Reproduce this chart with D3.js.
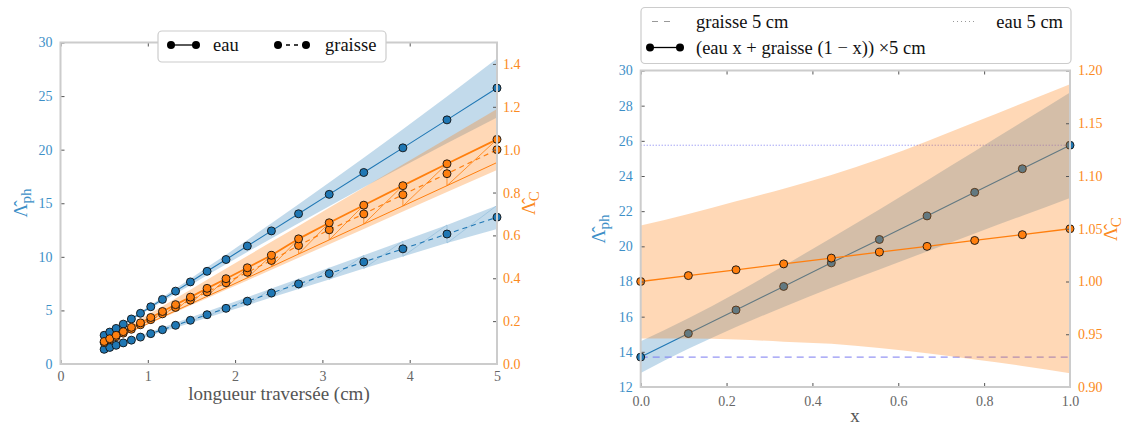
<!DOCTYPE html>
<html><head><meta charset="utf-8">
<script src="https://cdn.jsdelivr.net/npm/d3@7"></script>
<style>
body{margin:0;background:#fff;}
svg{display:block;font-family:"Liberation Serif","DejaVu Serif",serif;}
svg text{font-family:"Liberation Serif","DejaVu Serif",serif;}
</style></head>
<body><svg id="c" width="1124" height="428"></svg>
<script>
// ---------- data: left panel ----------
const lengths = [0.5,0.564,0.637,0.719,0.812,0.916,1.034,1.168,1.318,1.488,1.679,1.896,2.140,2.416,2.727,3.078,3.474,3.922,4.427,5.0];
const eauPh   = [2.68,2.98,3.32,3.72,4.2,4.73,5.34,6.03,6.8,7.66,8.65,9.75,11.01,12.42,14.02,15.83,17.87,20.17,22.78,25.75];
const eauPhLo = [2.63,2.92,3.25,3.63,4.09,4.6,5.18,5.84,6.56,7.36,8.28,9.3,10.45,11.72,13.14,14.73,16.49,18.44,20.6,23.0];
const eauPhHi = [2.73,3.04,3.39,3.81,4.31,4.86,5.5,6.23,7.04,7.96,9.02,10.2,11.58,13.13,14.9,16.93,19.25,21.9,24.96,28.5];
const grPh    = [1.37,1.545,1.745,1.97,2.225,2.51,2.833,3.2,3.611,4.077,4.6,5.195,5.864,6.62,7.472,8.434,9.519,10.746,12.13,13.7];
const grPhLo  = [1.27,1.435,1.625,1.84,2.075,2.35,2.65,3.0,3.38,3.82,4.31,4.87,5.49,6.2,6.99,7.88,8.9,10.03,11.28,12.6];
const grPhHi  = [1.47,1.655,1.865,2.1,2.375,2.67,3.01,3.4,3.84,4.34,4.89,5.53,6.23,7.04,7.95,8.98,10.14,11.47,12.98,14.8];
const eauC    = [0.105,0.118,0.134,0.151,0.171,0.192,0.217,0.245,0.277,0.312,0.353,0.398,0.449,0.507,0.584,0.659,0.741,0.832,0.934,1.048];
const grC     = [0.1,0.113,0.127,0.144,0.162,0.183,0.207,0.234,0.264,0.298,0.336,0.379,0.428,0.483,0.553,0.626,0.70,0.79,0.888,1.0];
const cBandLo = [0.095,0.107,0.12,0.134,0.151,0.17,0.191,0.215,0.242,0.273,0.307,0.346,0.39,0.44,0.496,0.559,0.63,0.711,0.802,0.905];
const cBandHi = [0.11,0.125,0.143,0.163,0.185,0.21,0.238,0.27,0.306,0.347,0.393,0.445,0.504,0.57,0.644,0.729,0.824,0.931,1.052,1.19];
const cThin   = [0.094,0.106,0.12,0.135,0.153,0.172,0.194,0.22,0.248,0.28,0.316,0.356,0.402,0.454,0.513,0.579,0.653,0.737,0.832,0.94];
const leftXTicks = [0,1,2,3,4,5];
const leftYTicks = [0,5,10,15,20,25,30];
const leftCTicks = [0.0,0.2,0.4,0.6,0.8,1.0,1.2,1.4];
const leftLegend = ["eau","graisse"];

// ---------- data: right panel ----------
const fracs   = [0,0.111,0.222,0.333,0.444,0.556,0.667,0.778,0.889,1.0];
const mixPh   = [13.7,15.04,16.38,17.72,19.06,20.39,21.73,23.07,24.41,25.75];
const mixPhLo = [12.8,14.17,15.41,16.55,17.64,18.68,19.71,20.73,21.74,22.75];
const mixPhHi = [14.6,15.91,17.35,18.89,20.48,22.1,23.75,25.41,27.08,28.75];
const mixC    = [1.0,1.0056,1.0111,1.0167,1.0222,1.0278,1.0333,1.0389,1.0444,1.05];
const mixCLo  = [0.946,0.946,0.945,0.943,0.941,0.937,0.932,0.926,0.920,0.913];
const mixCHi  = [1.053,1.064,1.076,1.088,1.101,1.116,1.133,1.151,1.169,1.187];
const graisse5 = 13.7, eau5 = 25.75;
const rightXTicks = [0,0.2,0.4,0.6,0.8,1.0];
const rightYTicks = [12,14,16,18,20,22,24,26,28,30];
const rightCTicks = [0.90,0.95,1.00,1.05,1.10,1.15,1.20];
const rightLegend = ["graisse 5 cm","eau 5 cm","(eau x + graisse (1 − x)) ×5 cm"];

// ---------- styles ----------
const BLUE="#1f77b4", ORANGE="#ff7f0e", BLUETXT="#3d8fc7", ORTXT="#fb8a22", GRAYTXT="#666", SPINE="#cccccc", REF="#7b7bf0";
const FONT="Liberation Serif, DejaVu Serif, serif";
const svg = d3.select("#c");

function spines(g, x0,x1,y0,y1){
  g.append("rect").attr("x",x0).attr("y",y1).attr("width",x1-x0).attr("height",y0-y1)
   .attr("fill","none").attr("stroke",SPINE).attr("stroke-width",2);
}
function styleAxis(sel, color){
  sel.attr("font-family",FONT).attr("font-size",14);
  sel.select(".domain").remove();
  sel.selectAll(".tick line").attr("stroke","#555").attr("stroke-width",1);
  sel.selectAll(".tick text").attr("fill",color);
}
function drawAxes(x,y,yc,xt,yt,ct,fmtX,fmtY,fmtC,padB,padL,padR){
  const [x0,x1]=x.range(), [y0,y1]=y.range();
  const gB=svg.append("g").attr("transform",`translate(0,${y0})`)
    .call(d3.axisBottom(x).tickValues(xt).tickFormat(fmtX).tickSize(-4).tickPadding(padB));
  styleAxis(gB,GRAYTXT);
  const gT=svg.append("g").attr("transform",`translate(0,${y1})`)
    .call(d3.axisTop(x).tickValues(xt).tickFormat("").tickSize(-4));
  styleAxis(gT,GRAYTXT);
  const gL=svg.append("g").attr("transform",`translate(${x0},0)`)
    .call(d3.axisLeft(y).tickValues(yt).tickFormat(fmtY).tickSize(-4).tickPadding(padL));
  styleAxis(gL,BLUETXT);
  const gR=svg.append("g").attr("transform",`translate(${x1},0)`)
    .call(d3.axisRight(yc).tickValues(ct).tickFormat(fmtC).tickSize(-4).tickPadding(padR));
  styleAxis(gR,ORTXT);
  spines(svg,x0,x1,y0,y1);
}
function lamLabel(x,y,sub,color,subSize){
  const t=svg.append("text").attr("transform",`translate(${x},${y}) rotate(-90)`)
    .attr("text-anchor","middle").attr("fill",color).style("font-size","19px");
  t.append("tspan").text("Λ\u0302");
  t.append("tspan").attr("dy","4").style("font-size",subSize).text(sub);
}

// ================= LEFT PANEL =================
const xL=d3.scaleLinear([0,5],[60.5,497]);
const yL=d3.scaleLinear([0,30],[364,42.5]);
const yLC=d3.scaleLinear([0,1.5],[364,42.5]);
const idxL=d3.range(lengths.length);

const areaL=(lo,hi,ys)=>d3.area().x(i=>xL(lengths[i])).y0(i=>ys(lo[i])).y1(i=>ys(hi[i]))(idxL);
const lineL=(v,ys)=>d3.line().x(i=>xL(lengths[i])).y(i=>ys(v[i]))(idxL);

svg.append("path").attr("d",areaL(eauPhLo,eauPhHi,yL)).attr("fill",BLUE).attr("fill-opacity",0.27);
svg.append("path").attr("d",areaL(grPhLo,grPhHi,yL)).attr("fill",BLUE).attr("fill-opacity",0.27);
svg.append("path").attr("d",areaL(cBandLo,cBandHi,yLC)).attr("fill",ORANGE).attr("fill-opacity",0.3);

// faint zigzag inside the lower blue band
const zzB=[];idxL.slice(0,-1).forEach(i=>{zzB.push([xL(lengths[i]),yL(grPhLo[i])]);zzB.push([xL(lengths[i+1]),yL(grPhHi[i+1])]);});
svg.append("path").attr("d",d3.line()(zzB)).attr("fill","none").attr("stroke",BLUE).attr("stroke-opacity",0.25).attr("stroke-width",0.8);

// orange thin line and zigzag
svg.append("path").attr("d",lineL(cThin,yLC)).attr("fill","none").attr("stroke",ORANGE).attr("stroke-width",1);
const zzO=[];idxL.slice(0,-1).forEach(i=>{zzO.push([xL(lengths[i]),yLC(cThin[i])]);zzO.push([xL(lengths[i+1]),yLC(eauC[i+1])]);});
svg.append("path").attr("d",d3.line()(zzO)).attr("fill","none").attr("stroke",ORANGE).attr("stroke-width",0.8);

svg.append("path").attr("d",lineL(eauPh,yL)).attr("fill","none").attr("stroke",BLUE).attr("stroke-width",1.1);
svg.append("path").attr("d",lineL(grPh,yL)).attr("fill","none").attr("stroke",BLUE).attr("stroke-width",1.1).attr("stroke-dasharray","5,4");
svg.append("path").attr("d",lineL(eauC,yLC)).attr("fill","none").attr("stroke",ORANGE).attr("stroke-width",1.8);
svg.append("path").attr("d",lineL(grC,yLC)).attr("fill","none").attr("stroke",ORANGE).attr("stroke-width",1.2).attr("stroke-dasharray","5,4");

function dots(xs,vals,xsc,ysc,fill){
  svg.append("g").selectAll("circle").data(d3.range(vals.length)).join("circle")
    .attr("cx",i=>xsc(xs[i])).attr("cy",i=>ysc(vals[i])).attr("r",4)
    .attr("fill",fill).attr("stroke","#111").attr("stroke-width",0.9);
}
dots(lengths,eauPh,xL,yL,BLUE);
dots(lengths,grPh,xL,yL,BLUE);
dots(lengths,grC,xL,yLC,ORANGE);
dots(lengths,eauC,xL,yLC,ORANGE);

drawAxes(xL,yL,yLC,leftXTicks,leftYTicks,leftCTicks,d3.format("d"),d3.format("d"),d3.format(".1f"),7,8,6);

svg.append("text").attr("x",279).attr("y",400).attr("text-anchor","middle").attr("fill","#555")
  .style("font-size","19px").text("longueur traversée (cm)");
lamLabel(27,203,"ph",BLUETXT,"15px");
lamLabel(535,203,"C",ORTXT,"15px");

// left legend
const lg=svg.append("g");
lg.append("rect").attr("x",158).attr("y",31).attr("width",228).attr("height",31).attr("rx",4)
  .attr("fill","#fff").attr("stroke",SPINE).attr("stroke-width",1.2);
[[171,196,null,leftLegend[0],213],[278,306,"4,4",leftLegend[1],325]].forEach(([a,b,dash,lab,tx])=>{
  lg.append("line").attr("x1",a).attr("x2",b).attr("y1",45).attr("y2",45).attr("stroke","#000").attr("stroke-width",1.3).attr("stroke-dasharray",dash);
  lg.append("circle").attr("cx",a).attr("cy",45).attr("r",4).attr("fill","#000");
  lg.append("circle").attr("cx",b).attr("cy",45).attr("r",4).attr("fill","#000");
  lg.append("text").attr("x",tx).attr("y",51).attr("fill","#111").style("font-size","18.5px").text(lab);
});

// ================= RIGHT PANEL =================
const xR=d3.scaleLinear([0,1],[640.7,1070]);
const yR=d3.scaleLinear([12,30],[387,70.5]);
const yRC=d3.scaleLinear([0.9,1.2],[387,70.5]);
const idxR=d3.range(fracs.length);
const areaR=(lo,hi,ys)=>d3.area().x(i=>xR(fracs[i])).y0(i=>ys(lo[i])).y1(i=>ys(hi[i])).curve(d3.curveMonotoneX)(idxR);
const lineR=(v,ys)=>d3.line().x(i=>xR(fracs[i])).y(i=>ys(v[i]))(idxR);

svg.append("path").attr("d",areaR(mixPhLo,mixPhHi,yR)).attr("fill",BLUE).attr("fill-opacity",0.27);
svg.append("line").attr("x1",xR(0)).attr("x2",xR(1)).attr("y1",yR(graisse5)).attr("y2",yR(graisse5))
  .attr("stroke",REF).attr("stroke-width",1).attr("stroke-dasharray","7,5");
svg.append("line").attr("x1",xR(0)).attr("x2",xR(1)).attr("y1",yR(eau5)).attr("y2",yR(eau5))
  .attr("stroke",REF).attr("stroke-width",1).attr("stroke-dasharray","1,2");
svg.append("path").attr("d",lineR(mixPh,yR)).attr("fill","none").attr("stroke",BLUE).attr("stroke-width",1.1);
dots(fracs,mixPh,xR,yR,BLUE);
svg.append("path").attr("d",areaR(mixCLo,mixCHi,yRC)).attr("fill",ORANGE).attr("fill-opacity",0.3);
svg.append("path").attr("d",lineR(mixC,yRC)).attr("fill","none").attr("stroke",ORANGE).attr("stroke-width",1.3);
dots(fracs,mixC,xR,yRC,ORANGE);

drawAxes(xR,yR,yRC,rightXTicks,rightYTicks,rightCTicks,d3.format(".1f"),d3.format("d"),d3.format(".2f"),9,8,8);

svg.append("text").attr("x",855).attr("y",422).attr("text-anchor","middle").attr("fill","#555")
  .style("font-size","19px").text("x");
lamLabel(605,229,"ph",BLUETXT,"15px");
lamLabel(1117,229,"C",ORTXT,"15px");

// right legend
const rg=svg.append("g");
rg.append("rect").attr("x",641).attr("y",7.5).attr("width",430).attr("height",56).attr("rx",4)
  .attr("fill","#fff").attr("stroke",SPINE).attr("stroke-width",1.2);
rg.append("line").attr("x1",652).attr("x2",672).attr("y1",21.5).attr("y2",21.5).attr("stroke","#999").attr("stroke-width",1).attr("stroke-dasharray","6,6");
rg.append("text").attr("x",696).attr("y",27.5).attr("fill","#111").style("font-size","18.5px").text(rightLegend[0]);
rg.append("line").attr("x1",953).attr("x2",977).attr("y1",21.5).attr("y2",21.5).attr("stroke","#999").attr("stroke-width",1).attr("stroke-dasharray","1,3");
rg.append("text").attr("x",1063).attr("y",27.5).attr("text-anchor","end").attr("fill","#111").style("font-size","18.5px").text(rightLegend[1]);
rg.append("line").attr("x1",650).attr("x2",680).attr("y1",47.5).attr("y2",47.5).attr("stroke","#000").attr("stroke-width",1.3);
rg.append("circle").attr("cx",650).attr("cy",47.5).attr("r",4).attr("fill","#000");
rg.append("circle").attr("cx",680).attr("cy",47.5).attr("r",4).attr("fill","#000");
rg.append("text").attr("x",696).attr("y",53.5).attr("fill","#111").style("font-size","18.5px").text(rightLegend[2]);
</script></body></html>
